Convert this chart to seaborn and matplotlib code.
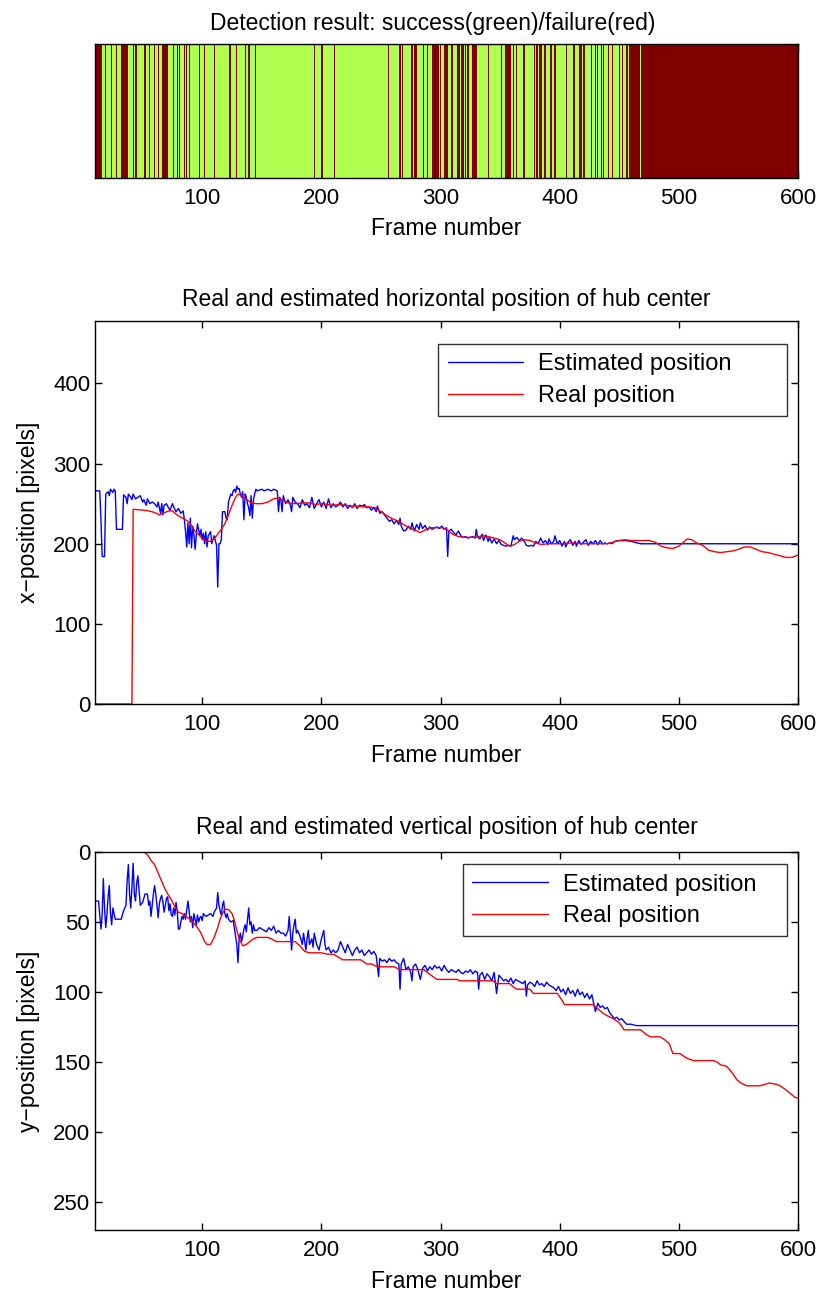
import numpy as np
import pandas as pd
import matplotlib
matplotlib.use("Agg")
import matplotlib.pyplot as plt
import seaborn as sns

# ---------------- data ----------------
frame_min, frame_max = 10, 600
# detection failures (inclusive frame ranges); all other frames are successes
failure_ranges = [(10, 15), (19, 19), (24, 24), (28, 28), (32, 37), (42, 42), (44, 45),
                  (52, 52), (56, 56), (60, 60), (63, 63), (67, 71), (76, 76), (79, 79),
                  (81, 81), (85, 85), (87, 87), (89, 89), (98, 98), (102, 102), (110, 110),
                  (123, 124), (129, 129), (136, 136), (139, 140), (145, 145), (194, 194),
                  (200, 201), (211, 211), (256, 256), (266, 266), (268, 268), (276, 276),
                  (278, 280), (286, 286), (289, 289), (293, 298), (300, 300), (303, 306),
                  (309, 310), (314, 316), (318, 319), (321, 321), (323, 323), (327, 330),
                  (340, 340), (351, 351), (355, 359), (361, 361), (364, 364), (370, 370),
                  (379, 379), (381, 381), (383, 385), (387, 388), (392, 393), (396, 396),
                  (406, 406), (412, 412), (417, 418), (420, 421), (427, 427), (430, 430),
                  (432, 432), (435, 435), (437, 437), (441, 441), (444, 444), (450, 450),
                  (453, 453), (456, 457), (459, 467), (469, 600)]

# horizontal position -- estimated (frame, pixels)
est_x = [(10, 266), (14, 266), (15, 230), (16, 184), (18, 184), (19, 262), (21, 265), (22, 260), (23, 268), (25, 264),
         (26, 268), (27, 266), (28, 218), (33, 218), (34, 261), (36, 258), (37, 250), (38, 262), (40, 258), (41, 255),
         (42, 262), (44, 256), (46, 258), (48, 260), (50, 252), (51, 255), (53, 248), (54, 256), (56, 250), (58, 252),
         (60, 250), (62, 246), (63, 252), (65, 238), (66, 250), (67, 236), (68, 248), (70, 250), (72, 244), (73, 242),
         (75, 250), (76, 246), (78, 240), (80, 244), (82, 238), (84, 241), (85, 230), (86, 215), (87, 196), (88, 226),
         (89, 200), (90, 232), (91, 195), (92, 222), (93, 212), (94, 193), (95, 210), (96, 225), (98, 210), (99, 218),
         (100, 205), (101, 213), (102, 200), (103, 215), (104, 196), (105, 210), (107, 215), (108, 200), (110, 210), (112, 198),
         (113, 146), (114, 200), (115, 200), (116, 205), (117, 240), (119, 240), (120, 232), (121, 230), (122, 252), (124, 262),
         (125, 260), (126, 266), (127, 268), (128, 264), (129, 272), (130, 268), (131, 269), (132, 262), (133, 258), (134, 265),
         (135, 230), (136, 262), (137, 258), (138, 250), (139, 245), (140, 235), (141, 260), (142, 232), (143, 255), (144, 262),
         (145, 268), (146, 266), (150, 268), (152, 266), (155, 268), (158, 266), (160, 268), (163, 266), (164, 240), (165, 258),
         (166, 255), (167, 240), (168, 260), (170, 250), (172, 255), (174, 248), (175, 240), (176, 258), (178, 252), (180, 250),
         (182, 245), (184, 255), (186, 248), (188, 250), (190, 245), (192, 258), (194, 244), (196, 250), (198, 255), (200, 246),
         (202, 252), (204, 244), (206, 256), (208, 245), (210, 250), (212, 246), (214, 248), (216, 252), (218, 246), (220, 250),
         (222, 244), (224, 248), (226, 245), (228, 250), (230, 244), (232, 248), (235, 247), (236, 249), (238, 245), (240, 246),
         (242, 242), (244, 245), (246, 240), (247, 247), (249, 238), (251, 240), (253, 236), (255, 232), (257, 228), (259, 230),
         (261, 225), (263, 229), (265, 224), (266, 232), (267, 222), (269, 216), (271, 217), (273, 222), (275, 218), (276, 226),
         (278, 216), (280, 224), (282, 218), (283, 226), (285, 219), (287, 223), (289, 217), (291, 221), (293, 218), (295, 220),
         (297, 221), (299, 219), (301, 222), (303, 218), (305, 220), (306, 184), (307, 216), (309, 218), (311, 214), (313, 211),
         (315, 216), (317, 210), (319, 208), (321, 209), (323, 207), (325, 208), (327, 209), (329, 207), (330, 218), (331, 209),
         (333, 206), (335, 212), (336, 204), (338, 211), (340, 203), (341, 208), (343, 201), (345, 206), (347, 200), (349, 204),
         (351, 199), (353, 198), (355, 197), (357, 198), (359, 197), (361, 210), (362, 205), (364, 208), (366, 204), (368, 207),
         (370, 204), (372, 198), (374, 197), (376, 198), (378, 197), (380, 203), (382, 200), (384, 207), (386, 201), (388, 204),
         (390, 199), (391, 206), (393, 200), (395, 203), (396, 210), (398, 200), (400, 204), (402, 197), (404, 203), (405, 196),
         (407, 202), (409, 205), (411, 198), (413, 203), (414, 197), (416, 204), (418, 199), (420, 202), (422, 205), (424, 198),
         (426, 203), (428, 200), (430, 204), (432, 199), (434, 204), (436, 200), (438, 201), (440, 200), (442, 201), (444, 200),
         (446, 203), (450, 204), (455, 204), (460, 203), (465, 201), (468, 200), (600, 200)]

# horizontal position -- real (frame, pixels)
real_x = [(10, 0), (41, 0), (42, 243), (50, 242), (55, 241), (60, 239), (64, 236), (67, 238), (72, 241), (75, 241),
          (78, 237), (82, 233), (86, 230), (89, 227), (92, 220), (95, 214), (98, 210), (101, 205), (104, 203), (107, 203),
          (110, 206), (113, 212), (116, 218), (119, 225), (122, 236), (125, 248), (128, 258), (130, 262), (133, 260), (136, 257),
          (140, 252), (145, 250), (150, 250), (155, 252), (160, 256), (163, 257), (168, 254), (172, 251), (178, 250), (185, 251),
          (190, 251), (195, 249), (200, 250), (205, 249), (210, 248), (215, 249), (220, 248), (225, 247), (230, 247), (235, 246),
          (240, 246), (245, 245), (248, 242), (252, 238), (256, 234), (260, 231), (265, 228), (270, 223), (275, 219), (280, 216),
          (283, 214), (287, 217), (291, 220), (296, 220), (302, 220), (306, 217), (310, 212), (315, 209), (320, 208), (325, 208),
          (330, 208), (335, 210), (340, 209), (345, 207), (350, 205), (355, 200), (358, 197), (362, 199), (366, 203), (370, 205),
          (375, 204), (380, 201), (385, 199), (390, 200), (395, 200), (400, 200), (410, 201), (420, 200), (430, 200), (440, 200),
          (445, 202), (450, 204), (455, 205), (460, 204), (470, 204), (475, 204), (480, 202), (485, 197), (490, 195), (495, 194),
          (500, 197), (504, 202), (507, 206), (511, 205), (515, 201), (520, 198), (525, 192), (530, 190), (535, 189), (540, 190),
          (545, 191), (550, 193), (555, 196), (560, 196), (565, 193), (570, 190), (575, 189), (580, 187), (585, 185), (590, 183),
          (595, 183), (600, 186)]

# vertical position -- estimated (frame, pixels)
est_y = [(10, 35), (13, 35), (15, 55), (16, 45), (17, 19), (18, 40), (19, 54), (20, 45), (21, 32), (22, 24),
         (23, 44), (24, 52), (25, 40), (27, 48), (30, 48), (32, 48), (34, 42), (36, 38), (37, 20), (38, 9),
         (39, 30), (40, 40), (41, 25), (42, 8), (43, 30), (44, 35), (45, 22), (46, 17), (47, 28), (48, 38),
         (50, 36), (52, 30), (54, 30), (55, 38), (56, 35), (57, 46), (58, 38), (59, 30), (60, 24), (61, 30),
         (62, 38), (63, 47), (64, 37), (65, 33), (66, 31), (67, 36), (68, 43), (69, 38), (70, 33), (71, 32),
         (72, 42), (73, 37), (74, 45), (75, 46), (76, 40), (77, 45), (78, 36), (79, 42), (80, 55), (81, 55),
         (82, 50), (83, 46), (84, 48), (85, 44), (86, 48), (88, 35), (89, 42), (90, 50), (91, 46), (92, 54),
         (93, 44), (94, 48), (95, 52), (96, 45), (97, 50), (98, 47), (99, 46), (100, 49), (101, 44), (103, 46),
         (105, 45), (107, 44), (109, 46), (110, 43), (112, 40), (113, 29), (114, 38), (115, 42), (116, 45), (117, 38),
         (118, 35), (119, 44), (120, 47), (121, 44), (122, 48), (124, 50), (126, 49), (128, 60), (129, 66), (130, 79),
         (131, 62), (132, 58), (133, 64), (134, 60), (135, 55), (136, 52), (137, 57), (138, 48), (139, 40), (140, 52),
         (141, 50), (142, 58), (143, 52), (144, 56), (146, 56), (148, 54), (150, 55), (152, 56), (154, 57), (156, 54),
         (158, 56), (160, 53), (162, 58), (164, 56), (166, 58), (168, 58), (170, 60), (172, 56), (173, 46), (174, 58),
         (175, 70), (176, 58), (177, 52), (178, 48), (179, 58), (180, 56), (182, 60), (184, 66), (185, 58), (186, 64),
         (187, 70), (188, 62), (189, 56), (190, 66), (192, 62), (193, 68), (194, 58), (196, 66), (198, 70), (200, 62),
         (202, 56), (203, 66), (204, 70), (206, 68), (208, 72), (210, 70), (212, 72), (214, 70), (216, 64), (218, 68),
         (220, 72), (222, 66), (224, 70), (226, 74), (228, 70), (230, 68), (232, 72), (234, 70), (236, 74), (238, 72),
         (240, 70), (242, 73), (244, 71), (246, 74), (248, 89), (249, 76), (251, 78), (253, 77), (255, 79), (257, 76),
         (259, 78), (261, 77), (263, 79), (265, 80), (266, 98), (267, 80), (269, 76), (271, 84), (273, 82), (275, 86),
         (276, 92), (277, 82), (279, 80), (281, 84), (283, 91), (285, 83), (287, 81), (289, 85), (291, 82), (293, 84),
         (295, 81), (297, 83), (299, 82), (301, 85), (303, 81), (305, 84), (307, 86), (309, 84), (311, 85), (313, 86),
         (315, 84), (317, 86), (319, 87), (321, 85), (323, 86), (325, 84), (327, 87), (329, 85), (331, 86), (332, 98),
         (333, 88), (335, 86), (337, 91), (339, 87), (341, 89), (343, 92), (345, 86), (347, 101), (349, 88), (351, 90),
         (353, 92), (355, 91), (357, 93), (359, 90), (361, 94), (363, 91), (365, 92), (367, 93), (369, 94), (371, 92),
         (372, 103), (373, 95), (375, 93), (377, 94), (379, 96), (381, 92), (383, 95), (385, 94), (387, 96), (389, 93),
         (391, 95), (393, 96), (395, 97), (397, 99), (399, 96), (401, 100), (403, 98), (405, 102), (407, 97), (409, 101),
         (411, 99), (413, 103), (415, 98), (417, 102), (419, 100), (421, 104), (423, 101), (425, 105), (427, 102), (428, 106),
         (430, 114), (432, 108), (434, 111), (436, 110), (438, 112), (440, 111), (442, 115), (444, 117), (446, 119), (448, 118),
         (450, 120), (452, 119), (454, 121), (456, 123), (460, 123), (464, 124), (468, 124), (600, 124)]

# vertical position -- real (frame, pixels)
real_y = [(10, 0), (51, 0), (54, 2), (57, 6), (60, 9), (62, 13), (65, 19), (68, 25), (71, 30), (74, 34),
          (77, 39), (80, 43), (83, 44), (86, 46), (90, 48), (93, 51), (96, 54), (99, 58), (102, 64), (104, 66),
          (107, 66), (110, 61), (113, 54), (115, 48), (117, 44), (119, 41), (122, 41), (125, 44), (127, 49), (129, 56),
          (131, 62), (134, 67), (137, 66), (140, 64), (143, 62), (146, 61), (150, 61), (155, 61), (158, 62), (162, 64),
          (170, 64), (178, 64), (182, 67), (186, 71), (190, 72), (195, 72), (200, 72), (205, 73), (210, 73), (214, 75),
          (218, 77), (225, 77), (233, 77), (238, 80), (242, 80), (247, 82), (255, 82), (261, 82), (266, 84), (275, 84),
          (286, 84), (292, 88), (297, 91), (305, 91), (314, 91), (316, 92), (330, 92), (344, 92), (347, 94), (358, 94),
          (362, 97), (364, 98), (375, 98), (378, 101), (398, 101), (402, 106), (404, 109), (420, 109), (428, 109), (432, 112),
          (436, 115), (440, 117), (445, 119), (450, 122), (454, 127), (460, 127), (468, 127), (472, 130), (476, 132), (484, 132),
          (488, 134), (492, 137), (495, 144), (501, 144), (506, 147), (512, 149), (520, 149), (529, 149), (532, 150), (535, 152),
          (540, 153), (545, 158), (549, 163), (552, 165), (557, 167), (562, 167), (568, 167), (572, 166), (576, 165), (582, 166),
          (585, 167), (590, 170), (593, 172), (597, 175), (600, 176)]

x_ticks = [100, 200, 300, 400, 500, 600]
xpos_ticks = [0, 100, 200, 300, 400]
ypos_ticks = [0, 50, 100, 150, 200, 250]
xpos_limit = 478
ypos_limit = 270

# ---------------- style ----------------
sns.set_theme(style="white")
plt.rcParams['font.family'] = ['Liberation Sans', 'DejaVu Sans']
plt.rcParams.update({
    'axes.edgecolor': 'black', 'axes.linewidth': 1.0,
    'xtick.direction': 'in', 'ytick.direction': 'in',
    'xtick.major.size': 5, 'ytick.major.size': 5,
    'xtick.major.width': 1.0, 'ytick.major.width': 1.0,
    'xtick.top': True, 'ytick.right': True,
    'xtick.bottom': True, 'ytick.left': True,
    'xtick.color': 'black', 'ytick.color': 'black',
    'text.color': 'black', 'axes.labelcolor': 'black',
})
TICK_FS = 16
LABEL_FS = 16.5
TITLE_FS = 16.5
LEGEND_FS = 17
GREEN = '#b0ff50'
DARKRED = '#800000'

W, H = 822, 1297
fig = plt.figure(figsize=(W / 100, H / 100), dpi=100)

def axes_px(left, top, right, bottom):
    return fig.add_axes([left / W, 1 - bottom / H, (right - left) / W, (bottom - top) / H])

ax1 = axes_px(95, 44, 798, 178)
ax2 = axes_px(95, 321, 798, 704)
ax3 = axes_px(95, 852, 798, 1230)

def to_df(pairs):
    f, v = zip(*pairs)
    return pd.DataFrame({'frame': f, 'pos': v})

# ---------------- top: detection result ----------------
frames = np.arange(frame_min, frame_max + 1)
failed = np.zeros(len(frames), dtype=bool)
for a, b in failure_ranges:
    failed[(frames >= a) & (frames <= b)] = True
det = pd.DataFrame({'frame': frames, 'failed': failed})
run_id = (det['failed'] != det['failed'].shift()).cumsum()
runs = det.groupby(run_id).agg(start=('frame', 'min'), end=('frame', 'max'), failed=('failed', 'first'))
ax1.bar(runs['start'] - 0.5, 1, width=runs['end'] - runs['start'] + 1, align='edge',
        color=[DARKRED if f else GREEN for f in runs['failed']], linewidth=0)
ax1.set_xlim(frame_min, frame_max)
ax1.set_ylim(0, 1)
ax1.set_yticks([])
ax1.set_xticks(x_ticks)
ax1.tick_params(axis='x', labelsize=TICK_FS, pad=7)
ax1.set_xlabel('Frame number', fontsize=LABEL_FS, labelpad=6)
ax1.set_title('Detection result: success(green)/failure(red)', fontsize=TITLE_FS, x=0.481, pad=10)
for s in ax1.spines.values():
    s.set_zorder(5)

def style_line_axes(ax, ylim, yticks, ylabel, title, title_pad):
    ax.set_xlim(frame_min, frame_max)
    ax.set_ylim(*ylim)
    ax.set_xticks(x_ticks)
    ax.set_yticks(yticks)
    ax.tick_params(labelsize=TICK_FS)
    ax.tick_params(axis='x', pad=7)
    ax.set_xlabel('Frame number', fontsize=LABEL_FS, labelpad=7)
    ax.set_ylabel(ylabel, fontsize=LABEL_FS, labelpad=9)
    ax.set_title(title, fontsize=TITLE_FS, pad=title_pad)

def add_legend(ax, bbox):
    leg = ax.legend(loc='upper left', bbox_to_anchor=bbox, mode='expand', fontsize=LEGEND_FS,
                    frameon=True, fancybox=False, edgecolor='black', handlelength=3.2,
                    borderpad=0.4, labelspacing=0.4, handletextpad=0.65, borderaxespad=0)
    leg.get_frame().set_linewidth(1.0)

# ---------------- middle: horizontal ----------------
sns.lineplot(data=to_df(est_x), x='frame', y='pos', ax=ax2, color='blue', lw=1.0,
             label='Estimated position', estimator=None, sort=False)
sns.lineplot(data=to_df(real_x), x='frame', y='pos', ax=ax2, color='red', lw=1.0,
             label='Real position', estimator=None, sort=False)
style_line_axes(ax2, (0, xpos_limit), xpos_ticks, 'x\u2212position [pixels]',
                'Real and estimated horizontal position of hub center', 11)
add_legend(ax2, (0.488, 0.75, 0.496, 0.19))

# ---------------- bottom: vertical ----------------
sns.lineplot(data=to_df(est_y), x='frame', y='pos', ax=ax3, color='blue', lw=1.0,
             label='Estimated position', estimator=None, sort=False)
sns.lineplot(data=to_df(real_y), x='frame', y='pos', ax=ax3, color='red', lw=1.0,
             label='Real position', estimator=None, sort=False)
style_line_axes(ax3, (ypos_limit, 0), ypos_ticks, 'y\u2212position [pixels]',
                'Real and estimated vertical position of hub center', 13)
add_legend(ax3, (0.5235, 0.775, 0.461, 0.193))

fig.savefig('out.png', dpi=100)
